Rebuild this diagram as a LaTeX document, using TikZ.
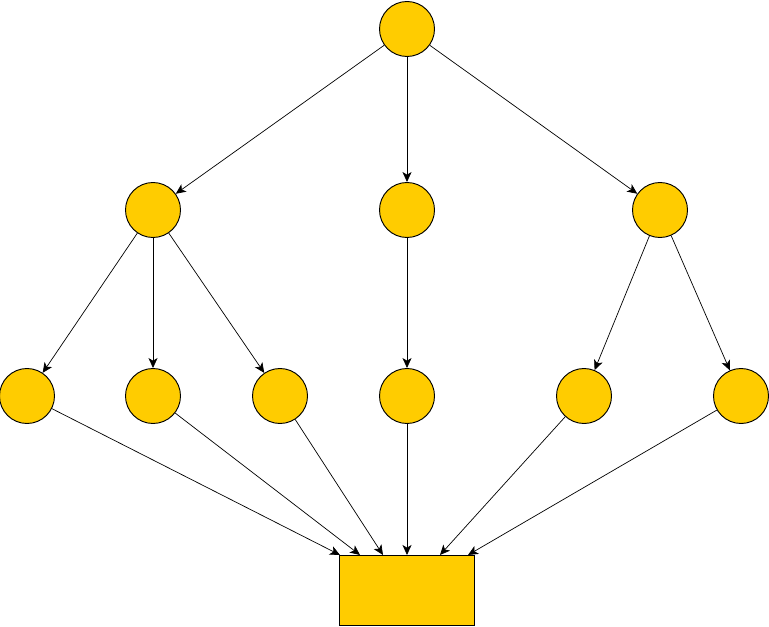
\documentclass[tikz,border=0pt]{standalone}
\usetikzlibrary{arrows.meta}
\definecolor{gold}{HTML}{FFCC00}
\tikzset{
  ball/.style={circle,draw=black,fill=gold,line width=0.8pt,minimum size=1.65cm,inner sep=0pt},
  sink/.style={rectangle,draw=black,fill=gold,line width=0.8pt,minimum width=4.04cm,minimum height=2.1cm,inner sep=0pt},
  link/.style={line width=0.6pt,-{Stealth[length=0.3cm,width=0.27cm,inset=0.08cm]}}
}
\begin{document}
\begin{tikzpicture}[x=0.03cm,y=-0.03cm]
\useasboundingbox (0,0) rectangle (769,626);
\node[ball] (top) at (407,29) {};
\node[ball] (l) at (153,210) {};
\node[ball] (m) at (407,210) {};
\node[ball] (r) at (660,210) {};
\node[ball] (la) at (27,396) {};
\node[ball] (lb) at (153,396) {};
\node[ball] (lc) at (280,396) {};
\node[ball] (ma) at (407,396) {};
\node[ball] (ra) at (584,396) {};
\node[ball] (rb) at (741,396) {};
\node[sink] (box) at (407,590) {};
\coordinate (in1) at (340,555);
\coordinate (in2) at (360,555);
\coordinate (in3) at (383,555);
\coordinate (in4) at (407,555);
\coordinate (in5) at (440,555);
\coordinate (in6) at (468,555);
\draw[link] (top) -- (l);
\draw[link] (top) -- (m);
\draw[link] (top) -- (r);
\draw[link] (l) -- (la);
\draw[link] (l) -- (lb);
\draw[link] (l) -- (lc);
\draw[link] (m) -- (ma);
\draw[link] (r) -- (ra);
\draw[link] (r) -- (rb);
\draw[link] (la) -- (in1);
\draw[link] (lb) -- (in2);
\draw[link] (lc) -- (in3);
\draw[link] (ma) -- (in4);
\draw[link] (ra) -- (in5);
\draw[link] (rb) -- (in6);
\end{tikzpicture}
\end{document}
